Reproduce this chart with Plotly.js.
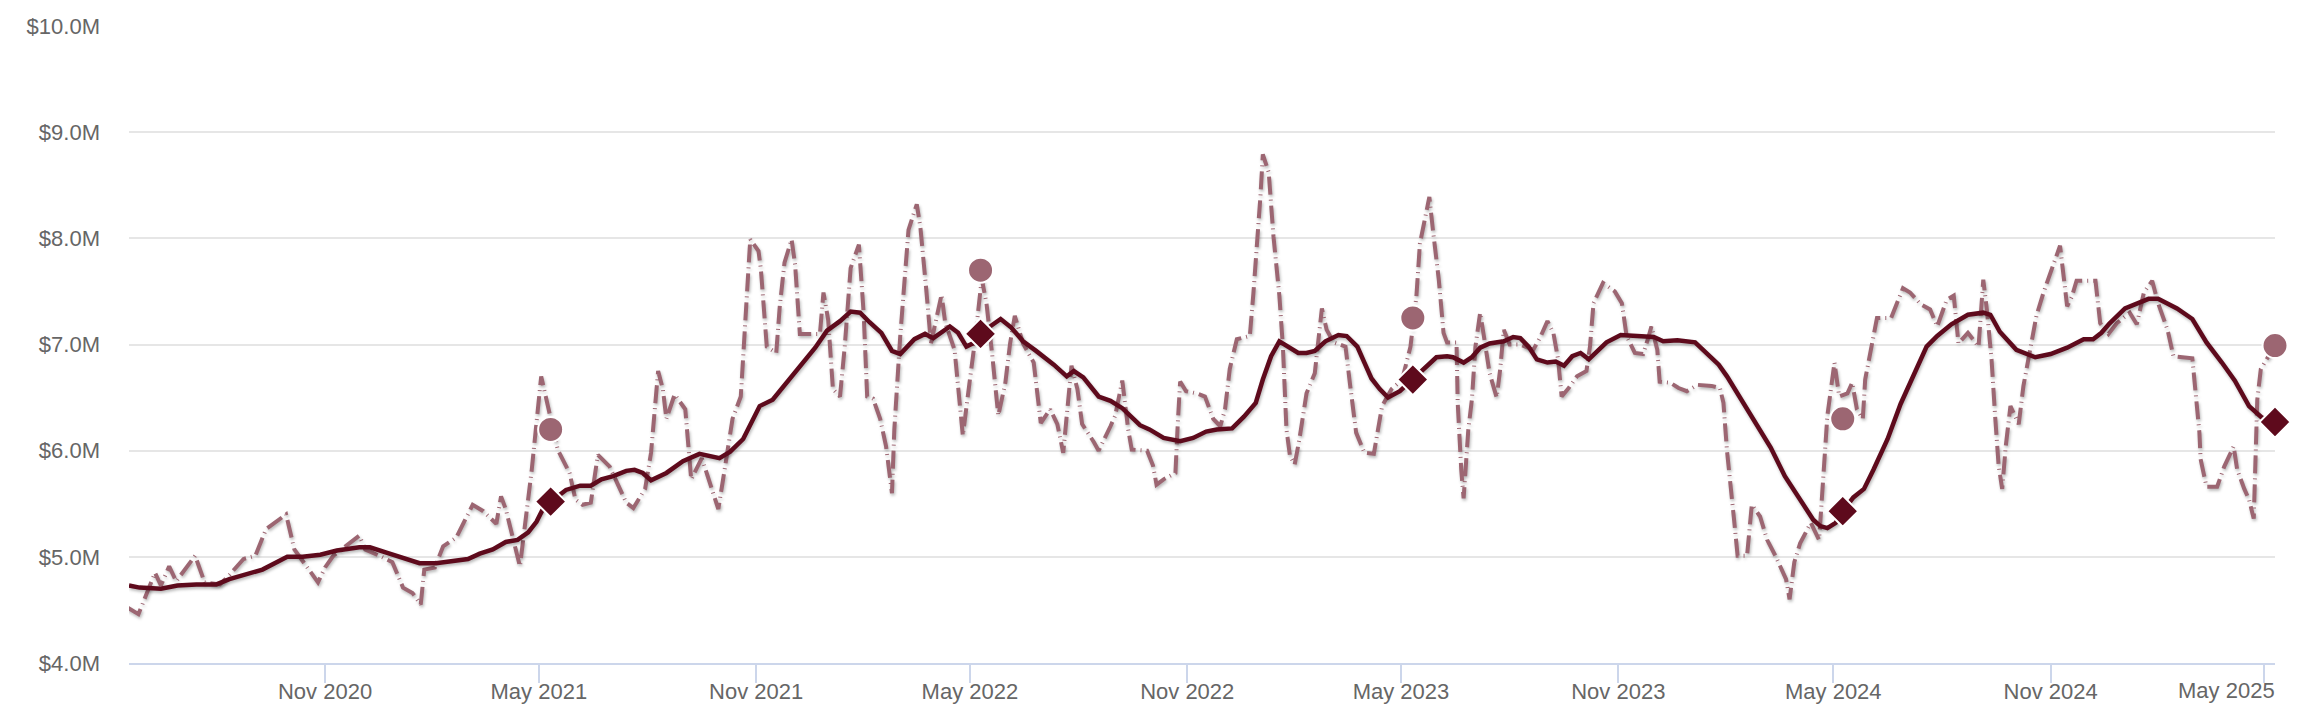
<!DOCTYPE html>
<html>
<head>
<meta charset="utf-8">
<script src="https://cdn.plot.ly/plotly-3.0.1.min.js"></script>
<style>
    html, body { margin: 0; padding: 0; background: #ffffff; }
    #chart { width: 2298px; height: 716px; }
    /* soft shadow under both lines, like the original */
    #chart .scatterlayer .js-line { filter: drop-shadow(1px 2px 1.5px rgba(0,0,0,0.28)); }
</style>
</head>
<body>
<div id="chart"></div>
<script>
// smoothed series (solid line), $M
const trendDates = [
    '2020-05-19','2020-05-28','2020-06-15','2020-06-29','2020-07-15','2020-08-01','2020-08-12','2020-08-27',
    '2020-09-09','2020-09-30','2020-10-13','2020-10-28','2020-11-11','2020-11-30','2020-12-09','2020-12-23',
    '2021-01-06','2021-01-20','2021-02-03','2021-02-17','2021-03-02','2021-03-12','2021-03-23','2021-04-03',
    '2021-04-13','2021-04-22','2021-04-29','2021-05-04','2021-05-11','2021-05-24','2021-06-05','2021-06-14',
    '2021-06-23','2021-07-03','2021-07-14','2021-07-21','2021-07-28','2021-08-04','2021-08-17','2021-08-31',
    '2021-09-14','2021-10-01','2021-10-10','2021-10-21','2021-11-04','2021-11-15','2021-11-27','2021-12-08',
    '2021-12-21','2021-12-31','2022-01-11','2022-01-20','2022-01-28','2022-02-05','2022-02-15','2022-02-24',
    '2022-03-03','2022-03-15','2022-03-24','2022-03-31','2022-04-14','2022-04-21','2022-04-28','2022-05-05',
    '2022-05-10','2022-05-18','2022-05-27','2022-06-05','2022-06-15','2022-06-26','2022-07-11','2022-07-22',
    '2022-07-28','2022-08-05','2022-08-18','2022-08-28','2022-09-07','2022-09-22','2022-09-30','2022-10-12',
    '2022-10-26','2022-11-06','2022-11-17','2022-11-26','2022-12-09','2022-12-19','2022-12-29','2023-01-04',
    '2023-01-11','2023-01-18','2023-01-25','2023-02-03','2023-02-10','2023-02-17','2023-02-26','2023-03-09',
    '2023-03-16','2023-03-25','2023-03-31','2023-04-06','2023-04-13','2023-04-20','2023-04-30','2023-05-11',
    '2023-05-20','2023-05-31','2023-06-09','2023-06-14','2023-06-23','2023-06-30','2023-07-07','2023-07-15',
    '2023-07-27','2023-08-04','2023-08-10','2023-08-17','2023-08-24','2023-09-02','2023-09-09','2023-09-16',
    '2023-09-23','2023-09-30','2023-10-07','2023-10-14','2023-10-22','2023-11-03','2023-11-17','2023-12-01',
    '2023-12-09','2023-12-21','2024-01-05','2024-01-15','2024-01-25','2024-02-01','2024-02-15','2024-02-25',
    '2024-03-09','2024-03-21','2024-04-03','2024-04-14','2024-04-20','2024-04-26','2024-05-03','2024-05-09',
    '2024-05-18','2024-05-27','2024-06-04','2024-06-16','2024-06-27','2024-07-08','2024-07-19','2024-07-28',
    '2024-08-09','2024-08-23','2024-09-05','2024-09-11','2024-09-19','2024-10-03','2024-10-19','2024-11-01',
    '2024-11-15','2024-11-29','2024-12-07','2024-12-14','2024-12-21','2025-01-03','2025-01-10','2025-01-23',
    '2025-01-31','2025-02-16','2025-03-01','2025-03-13','2025-03-26','2025-04-06','2025-04-18','2025-04-29',
    '2025-05-10'
]
const trendValues = [
    4.73,4.71,4.70,4.73,4.74,4.74,4.79,4.84,
    4.88,5.00,5.00,5.02,5.06,5.09,5.09,5.04,
    4.99,4.94,4.94,4.96,4.98,5.03,5.07,5.14,
    5.16,5.23,5.33,5.44,5.52,5.63,5.67,5.67,
    5.73,5.76,5.81,5.82,5.79,5.72,5.79,5.90,
    5.97,5.93,5.99,6.11,6.42,6.48,6.64,6.80,
    6.97,7.13,7.22,7.31,7.30,7.21,7.11,6.94,
    6.91,7.05,7.10,7.06,7.17,7.11,6.98,7.02,
    7.10,7.17,7.24,7.16,7.03,6.94,6.81,6.70,
    6.75,6.69,6.51,6.47,6.40,6.24,6.20,6.12,
    6.09,6.12,6.18,6.20,6.21,6.32,6.45,6.67,
    6.89,7.03,6.98,6.92,6.92,6.94,7.03,7.09,
    7.08,6.98,6.83,6.68,6.58,6.50,6.56,6.67,
    6.77,6.88,6.89,6.88,6.83,6.88,6.97,7.01,
    7.03,7.07,7.06,6.98,6.86,6.83,6.84,6.80,
    6.89,6.92,6.86,6.94,7.02,7.09,7.08,7.07,
    7.03,7.04,7.02,6.91,6.81,6.70,6.45,6.28,
    6.03,5.76,5.54,5.35,5.29,5.27,5.32,5.43,
    5.56,5.64,5.82,6.11,6.44,6.72,6.98,7.08,
    7.19,7.28,7.30,7.28,7.12,6.95,6.88,6.91,
    6.97,7.05,7.05,7.11,7.20,7.34,7.37,7.43,
    7.43,7.34,7.24,7.02,6.83,6.66,6.42,6.31,
    6.27
]

// raw series (dashed line), $M
const rawDates = [
    '2020-05-18','2020-05-27','2020-06-10','2020-06-15','2020-06-22','2020-06-28','2020-07-14','2020-07-22',
    '2020-08-04','2020-08-12','2020-08-24','2020-09-03','2020-09-12','2020-09-22','2020-09-29','2020-10-06',
    '2020-10-26','2020-11-01','2020-11-08','2020-11-30','2020-12-05','2020-12-17','2020-12-28','2021-01-06',
    '2021-01-14','2021-01-21','2021-01-24','2021-02-02','2021-02-09','2021-02-20','2021-03-06','2021-03-15',
    '2021-03-26','2021-03-30','2021-04-03','2021-04-15','2021-04-20','2021-04-25','2021-05-03','2021-05-06',
    '2021-05-10','2021-05-17','2021-05-27','2021-06-01','2021-06-07','2021-06-14','2021-06-20','2021-06-30',
    '2021-07-14','2021-07-20','2021-07-30','2021-08-04','2021-08-10','2021-08-14','2021-08-17','2021-08-24',
    '2021-09-02','2021-09-07','2021-09-16','2021-09-30','2021-10-04','2021-10-12','2021-10-19','2021-10-24',
    '2021-10-27','2021-11-03','2021-11-05','2021-11-10','2021-11-18','2021-11-21','2021-11-25','2021-12-01',
    '2021-12-04','2021-12-08','2021-12-25','2021-12-28','2022-01-01','2022-01-05','2022-01-11','2022-01-15',
    '2022-01-20','2022-01-27','2022-01-31','2022-02-03','2022-02-08','2022-02-14','2022-02-19','2022-02-24',
    '2022-02-26','2022-03-03','2022-03-10','2022-03-17','2022-03-20','2022-03-25','2022-03-29','2022-04-07',
    '2022-04-10','2022-04-18','2022-04-25','2022-05-01','2022-05-05','2022-05-11','2022-05-15','2022-05-20',
    '2022-05-25','2022-05-31','2022-06-04','2022-06-08','2022-06-15','2022-06-24','2022-06-30','2022-07-08',
    '2022-07-14','2022-07-19','2022-07-26','2022-07-31','2022-08-04','2022-08-14','2022-08-18','2022-08-28',
    '2022-09-01','2022-09-07','2022-09-12','2022-09-15','2022-09-28','2022-10-03','2022-10-06','2022-10-12',
    '2022-10-22','2022-10-24','2022-10-26','2022-10-31','2022-11-09','2022-11-16','2022-11-23','2022-11-29',
    '2022-12-03','2022-12-07','2022-12-13','2022-12-24','2022-12-27','2023-01-02','2023-01-04','2023-01-09',
    '2023-01-13','2023-01-18','2023-01-21','2023-01-24','2023-01-27','2023-01-31','2023-02-04','2023-02-10',
    '2023-02-17','2023-02-23','2023-02-27','2023-03-05','2023-03-15','2023-03-19','2023-03-24','2023-03-31',
    '2023-04-08','2023-04-12','2023-04-15','2023-04-23','2023-05-02','2023-05-09','2023-05-14','2023-05-17',
    '2023-05-21','2023-05-25','2023-05-28','2023-06-02','2023-06-06','2023-06-09','2023-06-17','2023-06-18',
    '2023-06-21','2023-06-23','2023-06-27','2023-06-30','2023-07-03','2023-07-07','2023-07-11','2023-07-15',
    '2023-07-21','2023-07-24','2023-07-27','2023-08-01','2023-08-10','2023-08-21','2023-08-27','2023-09-02',
    '2023-09-07','2023-09-11','2023-09-14','2023-09-20','2023-09-27','2023-10-05','2023-10-08','2023-10-11',
    '2023-10-19','2023-10-29','2023-11-04','2023-11-08','2023-11-15','2023-11-22','2023-11-26','2023-11-29',
    '2023-12-04','2023-12-06','2023-12-15','2023-12-22','2023-12-29','2024-01-07','2024-01-19','2024-01-26',
    '2024-01-29','2024-02-01','2024-02-07','2024-02-10','2024-02-18','2024-02-22','2024-02-29','2024-03-06',
    '2024-03-13','2024-03-22','2024-03-25','2024-03-29','2024-04-03','2024-04-12','2024-04-19','2024-04-23',
    '2024-04-26','2024-05-02','2024-05-06','2024-05-13','2024-05-17','2024-05-21','2024-05-26','2024-05-28',
    '2024-06-02','2024-06-07','2024-06-19','2024-06-29','2024-07-05','2024-07-14','2024-07-22','2024-07-28',
    '2024-08-05','2024-08-11','2024-08-15','2024-08-23','2024-09-01','2024-09-05','2024-09-08','2024-09-12',
    '2024-09-15','2024-09-18','2024-09-21','2024-09-24','2024-09-28','2024-10-05','2024-10-09','2024-10-15',
    '2024-10-20','2024-10-26','2024-11-03','2024-11-09','2024-11-15','2024-11-19','2024-11-23','2024-12-09',
    '2024-12-13','2024-12-20','2024-12-27','2025-01-07','2025-01-13','2025-01-19','2025-01-26','2025-01-31',
    '2025-02-08','2025-02-13','2025-03-01','2025-03-04','2025-03-07','2025-03-08','2025-03-13','2025-03-22',
    '2025-03-28','2025-04-05','2025-04-08','2025-04-14','2025-04-18','2025-04-22','2025-04-25','2025-04-28',
    '2025-05-03','2025-05-10'
]
const rawValues = [
    4.52,4.46,4.85,4.73,4.91,4.77,5.01,4.76,
    4.74,4.83,4.98,5.01,5.26,5.34,5.40,5.07,
    4.76,4.90,5.01,5.20,5.07,5.01,4.95,4.71,
    4.66,4.55,4.88,4.90,5.10,5.18,5.49,5.43,
    5.31,5.57,5.45,4.91,5.35,5.82,6.70,6.55,
    6.39,6.01,5.79,5.54,5.49,5.51,5.96,5.85,
    5.51,5.46,5.64,5.98,6.75,6.58,6.30,6.53,
    6.39,5.73,5.93,5.45,5.73,6.30,6.51,7.36,
    7.99,7.88,7.71,6.98,6.92,7.36,7.77,7.99,
    7.75,7.10,7.10,7.49,7.23,6.58,6.51,6.98,
    7.72,7.94,7.30,6.51,6.49,6.30,6.04,5.60,
    6.20,7.08,8.08,8.32,8.11,7.52,7.01,7.47,
    7.21,6.95,6.14,6.67,7.01,7.62,7.39,6.89,
    6.33,6.64,7.01,7.27,7.01,6.83,6.26,6.39,
    6.25,5.98,6.80,6.58,6.25,6.08,6.00,6.23,
    6.33,6.66,6.20,6.01,6.00,5.86,5.68,5.73,
    5.79,6.26,6.65,6.56,6.54,6.51,6.30,6.23,
    6.39,6.77,7.05,7.08,7.48,8.40,8.79,8.62,
    8.02,7.46,6.98,6.20,5.95,5.87,6.11,6.54,
    6.73,7.34,7.14,7.02,6.98,6.61,6.17,5.98,
    5.97,6.23,6.42,6.58,6.67,6.98,7.45,7.95,
    8.18,8.39,8.08,7.61,7.11,7.02,7.02,6.45,
    5.82,5.55,6.20,6.48,6.98,7.30,7.02,6.73,
    6.50,6.77,7.14,7.00,7.00,6.95,7.07,7.22,
    7.11,6.86,6.51,6.59,6.70,6.75,6.98,7.39,
    7.58,7.50,7.39,7.08,6.92,6.91,7.05,7.17,
    6.95,6.65,6.64,6.59,6.56,6.62,6.61,6.59,
    6.45,6.00,5.35,5.01,5.01,5.49,5.38,5.16,
    5.01,4.79,4.60,4.95,5.13,5.32,5.16,5.76,
    6.33,6.83,6.51,6.54,6.64,6.39,6.30,6.67,
    6.98,7.25,7.25,7.53,7.49,7.38,7.33,7.17,
    7.42,7.46,7.01,7.11,6.98,7.61,7.33,6.86,
    6.33,5.86,5.64,6.04,6.42,6.25,6.61,6.95,
    7.27,7.49,7.74,7.93,7.36,7.45,7.60,7.60,
    7.20,7.10,7.20,7.30,7.19,7.49,7.60,7.39,
    7.14,6.89,6.87,6.54,6.17,5.92,5.66,5.66,
    5.85,6.04,5.82,5.64,5.54,5.36,6.48,6.77,
    6.86,6.99
]

// yearly snapshots: diamond = smoothed value, circle = raw value
const snapDates = ['2021-05-11','2022-05-10','2023-05-11','2024-05-09','2025-05-10']
const snapTrend = [5.52, 7.10, 6.67, 5.43, 6.27]
const snapRaw = [6.20, 7.70, 7.25, 6.30, 6.99]

// x ticks every six months; the last label is pulled in from the edge (see annotation)
const tickDates = ['2020-11-01','2021-05-01','2021-11-01','2022-05-01','2022-11-01','2023-05-01',
    '2023-11-01','2024-05-01','2024-11-01','2025-05-01']
const tickLabels = ['Nov 2020','May 2021','Nov 2021','May 2022','Nov 2022','May 2023',
    'Nov 2023','May 2024','Nov 2024','']
const lastTickLabel = 'May 2025'

const DARK = '#5e0a1c'
const MAUVE = '#9c6672'
const LABEL_FONT = {family: 'Liberation Sans, Arial, sans-serif', size: 22, color: '#666666'}

const traces = [
    {
        x: rawDates, y: rawValues,
        type: 'scatter', mode: 'lines',
        line: {color: MAUVE, width: 4, dash: '18px,5px,1px,5px'},
        hoverinfo: 'skip'
    },
    {
        x: trendDates, y: trendValues,
        type: 'scatter', mode: 'lines',
        line: {color: DARK, width: 4.5},
        hoverinfo: 'skip'
    },
    {
        x: snapDates, y: snapRaw,
        type: 'scatter', mode: 'markers',
        marker: {symbol: 'circle', size: 25, color: MAUVE, line: {color: '#ffffff', width: 2}},
        cliponaxis: false,
        hoverinfo: 'skip'
    },
    {
        x: snapDates, y: snapTrend,
        type: 'scatter', mode: 'markers',
        marker: {symbol: 'diamond', size: 24, color: DARK, line: {color: '#ffffff', width: 2}},
        cliponaxis: false,
        hoverinfo: 'skip'
    }
]

const layout = {
    width: 2298,
    height: 716,
    margin: {l: 129, r: 23, t: 26, b: 53},
    paper_bgcolor: '#ffffff',
    plot_bgcolor: '#ffffff',
    showlegend: false,
    font: LABEL_FONT,
    xaxis: {
        type: 'date',
        range: ['2020-05-19', '2025-05-10'],
        tickmode: 'array',
        tickvals: tickDates,
        ticktext: tickLabels,
        ticks: 'outside',
        ticklen: 18,
        tickwidth: 2,
        tickcolor: '#ccd6eb',
        ticklabelstandoff: -10,
        showline: true,
        linecolor: '#ccd6eb',
        linewidth: 2,
        showgrid: false,
        zeroline: false,
        tickfont: LABEL_FONT
    },
    yaxis: {
        range: [4, 10],
        dtick: 1,
        tickformat: '.1f',
        tickprefix: '$',
        ticksuffix: 'M',
        ticks: '',
        ticklabelstandoff: 28,
        showgrid: true,
        gridcolor: '#e6e6e6',
        gridwidth: 2,
        zeroline: false,
        showline: false,
        tickfont: LABEL_FONT
    },
    annotations: [{
        text: lastTickLabel,
        xref: 'paper', yref: 'paper',
        x: 1, y: 0,
        xanchor: 'right', yanchor: 'top',
        xshift: 2,
        yshift: -13,
        showarrow: false,
        font: LABEL_FONT
    }]
}

Plotly.newPlot('chart', traces, layout, {displayModeBar: false, staticPlot: true})
</script>
</body>
</html>
